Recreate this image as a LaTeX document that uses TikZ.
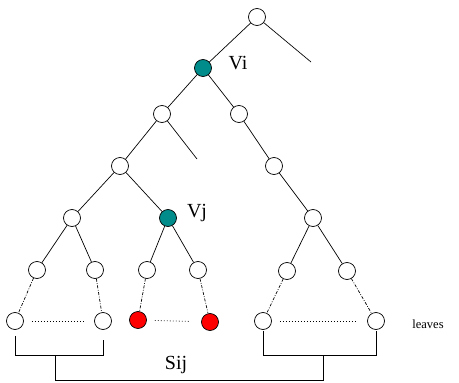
\documentclass[tikz,border=0pt]{standalone}
\usepackage{fontspec}
\setmainfont{Liberation Serif}
\definecolor{tealnode}{RGB}{0,140,138}
\definecolor{rednode}{RGB}{255,0,0}
\begin{document}
\begin{tikzpicture}[x=1pt,y=-1pt,
  vtx/.style={circle,draw,line width=0.7pt,minimum size=17pt,inner sep=0pt,fill=white},
  hot/.style={vtx,fill=tealnode},
  leafred/.style={vtx,fill=rednode},
  edge/.style={line width=0.7pt},
  dd/.style={line width=0.7pt,dash pattern=on 3pt off 1.5pt on 0.8pt off 1.5pt},
  dots/.style={line width=0.8pt,dash pattern=on 0.8pt off 2.2pt,shorten <=8pt,shorten >=11pt},
  lbl/.style={font=\fontsize{20}{22}\selectfont,inner sep=0pt},
  small/.style={font=\fontsize{12.5}{14}\selectfont,inner sep=0pt}]
\useasboundingbox (0,0) rectangle (459,383);
% nodes
\node[vtx] (root) at (257,17) {};
\node[hot] (vi) at (203,68) {};
\node[vtx] (a) at (162,114) {};
\node[vtx] (b) at (239,114) {};
\node[vtx] (c) at (120,166) {};
\node[vtx] (d) at (274,166) {};
\node[vtx] (f) at (72,218) {};
\node[hot] (vj) at (168,218) {};
\node[vtx] (e) at (313,218) {};
\node[vtx] (f1) at (37,270) {};
\node[vtx] (f2) at (95,270) {};
\node[vtx] (j1) at (147,270) {};
\node[vtx] (j2) at (198,270) {};
\node[vtx] (e1) at (287,271) {};
\node[vtx] (e2) at (347,271) {};
\node[vtx] (l1) at (15,321) {};
\node[vtx] (l2) at (103,321) {};
\node[leafred] (r1) at (138,320) {};
\node[leafred] (r2) at (210,322) {};
\node[vtx] (l3) at (263,321) {};
\node[vtx] (l4) at (376,321) {};
\coordinate (rootR) at (311,62);
\coordinate (aR) at (197,159);
% labels
\node[lbl] (vilbl) at (238,63) {Vi};
\node[lbl] (vjlbl) at (197,213) {Vj};
\node[lbl] (sij) at (176,365) {Sij};
\node[small] (lv) at (428,324) {leaves};
% edges
\draw[edge] (root) -- (vi);
\draw[edge] (root) -- (rootR);
\draw[edge] (vi) -- (a);
\draw[edge] (vi) -- (b);
\draw[edge] (a) -- (c);
\draw[edge] (a) -- (aR);
\draw[edge] (b) -- (d);
\draw[edge] (d) -- (e);
\draw[edge] (c) -- (f);
\draw[edge] (c) -- (vj);
\draw[edge] (f) -- (f1);
\draw[edge] (f) -- (f2);
\draw[edge] (vj) -- (j1);
\draw[edge] (vj) -- (j2);
\draw[edge] (e) -- (e1);
\draw[edge] (e) -- (e2);
\draw[dd] (f1) -- (l1);
\draw[dd] (f2) -- (l2);
\draw[dd] (j1) -- (r1);
\draw[dd] (j2) -- (r2);
\draw[dd] (e1) -- (l3);
\draw[dd] (e2) -- (l4);
\draw[dots] (l1) -- (l2);
\draw[dots] (r1) -- (r2);
\draw[dots] (l3) -- (l4);
% brackets
\coordinate (bl) at (55,355);
\coordinate (br) at (323,355);
\draw[edge] ([yshift=-6pt]l1.south) -- (l1 |- bl) -- (l2 |- bl) -- ([yshift=-10pt]l2.south);
\draw[edge] ([yshift=-1pt]l3.south) -- (l3 |- br) -- (l4 |- br) -- ([yshift=-1pt]l4.south);
\draw[edge] (bl) -- ++(0,25) -| (br);
\end{tikzpicture}
\end{document}
